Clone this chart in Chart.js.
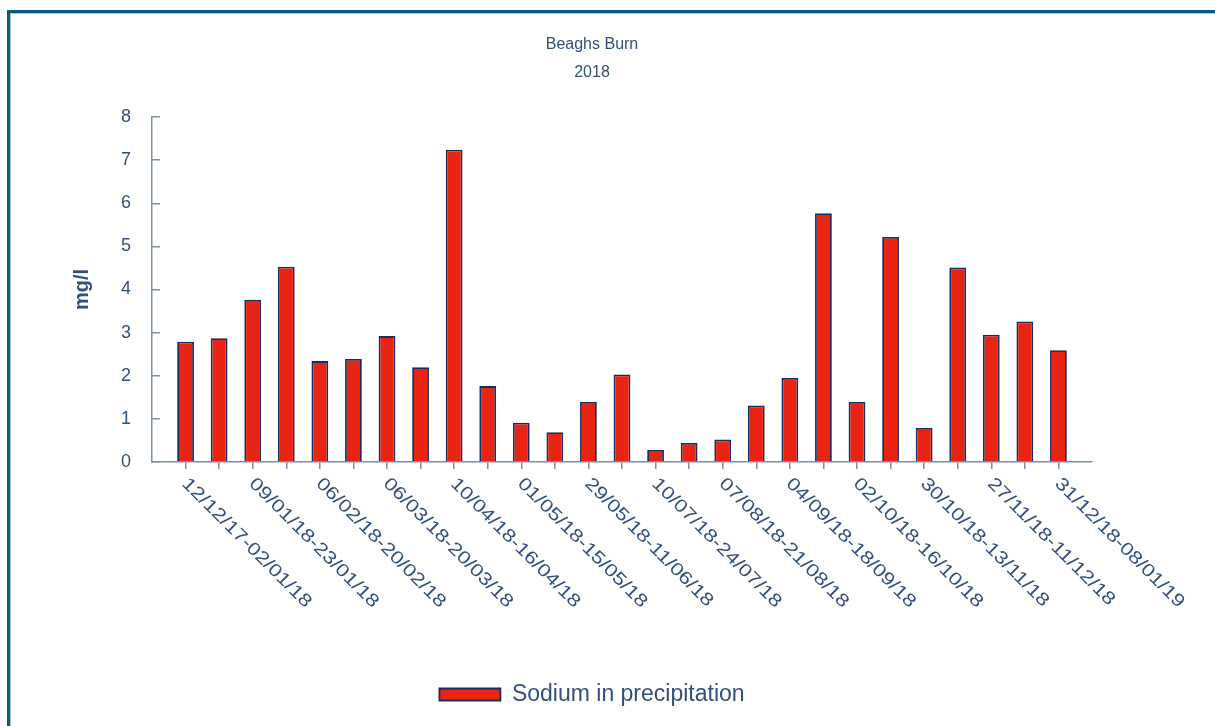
<!DOCTYPE html>
<html>
<head>
<meta charset="utf-8">
<script src="https://cdn.jsdelivr.net/npm/chart.js@4/dist/chart.umd.min.js"></script>
<style>
html,body{margin:0;padding:0;background:#fff;width:1215px;height:726px;overflow:hidden;}
#frame{position:absolute;left:7px;top:10px;width:1230px;height:740px;border-top:3px solid #0c5a84;border-left:3px solid #0c5a84;box-sizing:border-box;box-shadow:inset 1px 1px 0 #a9c7d9;}
#wrap{position:absolute;left:0;top:0;width:1215px;height:726px;}
</style>
</head>
<body>
<div id="frame"></div>
<div id="wrap"><canvas id="c"></canvas></div>
<script>
// ---- data ----
const chartTitle = ['Beaghs Burn', '2018'];
const seriesName = 'Sodium in precipitation';
const yAxisTitle = 'mg/l';
const tickLabels = [
  '12/12/17-02/01/18', '', '09/01/18-23/01/18', '', '06/02/18-20/02/18', '',
  '06/03/18-20/03/18', '', '10/04/18-16/04/18', '', '01/05/18-15/05/18', '',
  '29/05/18-11/06/18', '', '10/07/18-24/07/18', '', '07/08/18-21/08/18', '',
  '04/09/18-18/09/18', '', '02/10/18-16/10/18', '', '30/10/18-13/11/18', '',
  '27/11/18-11/12/18', '', '31/12/18-08/01/19'
];
const sodium = [
  2.79, 2.87, 3.76, 4.53, 2.34, 2.39, 2.92, 2.20, 7.24,
  1.76, 0.91, 0.69, 1.39, 2.03, 0.28, 0.44, 0.52, 1.31,
  1.95, 5.77, 1.39, 5.22, 0.79, 4.51, 2.95, 3.26, 2.59
];
const yMin = 0, yMax = 8, yStep = 1;

// ---- styles ----
const FONT = '"Liberation Sans", Arial, sans-serif';
const TXT = '#33507a';
const AXIS = '#7890ab';

const xLabelPlugin = {
  id: 'xLabels',
  afterDraw(chart) {
    const s = chart.scales.x, ctx = chart.ctx;
    ctx.save();
    ctx.font = '18px ' + FONT;
    ctx.fillStyle = TXT;
    ctx.textAlign = 'left';
    ctx.textBaseline = 'middle';
    tickLabels.forEach((lab, i) => {
      if (!lab) return;
      const x = s.getPixelForValue(i);
      ctx.save();
      ctx.translate(x - 1, s.top + 19);
      ctx.rotate(Math.PI / 4);
      ctx.scale(1.2, 1);
      ctx.fillText(lab, 0, 0);
      ctx.restore();
    });
    ctx.restore();
  }
};

new Chart(document.getElementById('c'), {
  type: 'bar',
  data: {
    datasets: [{
      label: seriesName,
      data: sodium.map((v, i) => ({ x: i, y: v })),
      backgroundColor: '#ea2412',
      borderColor: '#1c2b5e',
      borderWidth: 1.8,
      barPercentage: 0.5,
      categoryPercentage: 1
    }]
  },
  options: {
    responsive: true,
    maintainAspectRatio: false,
    animation: false,
    layout: { padding: { left: 0, right: 31, top: 0, bottom: 10 } },
    plugins: {
      title: {
        display: true, text: chartTitle, color: TXT,
        font: { family: FONT, size: 16, weight: 'normal', lineHeight: 1.75 },
        padding: { top: 31, bottom: 30 }
      },
      legend: {
        position: 'bottom',
        labels: { boxWidth: 61, boxHeight: 12, color: TXT, font: { family: FONT, size: 23 }, padding: 10 }
      },
      tooltip: { enabled: false }
    },
    scales: {
      x: {
        type: 'linear', min: -1, max: 27, offset: false,
        grid: { offset: false, drawOnChartArea: false, tickLength: 7, color: AXIS, lineWidth: 1.5 },
        border: { color: AXIS, width: 1.5 },
        ticks: { display: false, stepSize: 1 },
        afterBuildTicks: s => { s.ticks = tickLabels.map((_, i) => ({ value: i })); },
        afterFit: s => { s.height = 211; }
      },
      y: {
        min: yMin, max: yMax,
        ticks: { stepSize: yStep, color: TXT, font: { family: FONT, size: 18 }, padding: 29 },
        grid: { drawOnChartArea: false, tickLength: -8, color: AXIS, lineWidth: 1.5 },
        border: { color: AXIS, width: 1.5 },
        title: { display: true, text: yAxisTitle, color: TXT, font: { family: FONT, size: 20, weight: 'bold' }, padding: { top: 70, bottom: 0 } },
        afterFit: s => { s.width = 152; }
      },
      yR: {
        position: 'right', display: true,
        ticks: { display: false }, grid: { display: false }, border: { display: false },
        afterFit: s => { s.width = 92; }
      }
    }
  },
  plugins: [xLabelPlugin]
});
</script>
</body>
</html>
